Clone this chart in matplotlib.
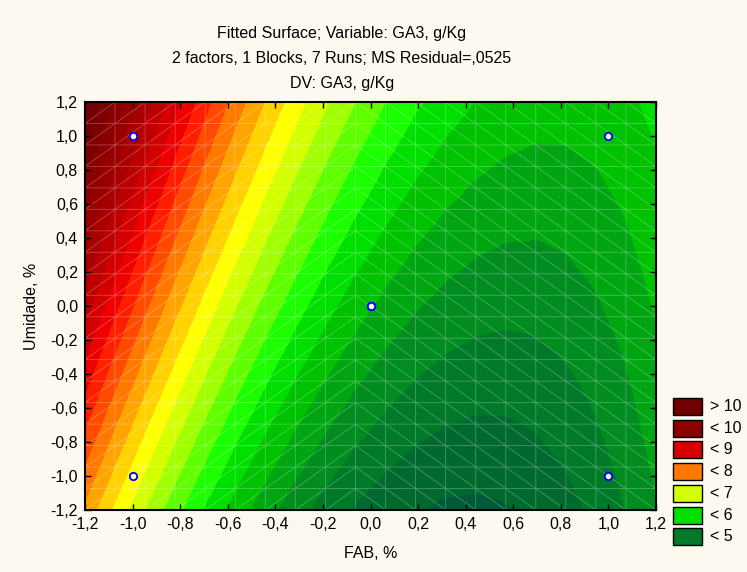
import numpy as np
import matplotlib
matplotlib.use("Agg")
import matplotlib.pyplot as plt
from matplotlib.tri import Triangulation
from matplotlib.patches import Rectangle

plt.rcParams['font.family'] = ['Liberation Sans', 'DejaVu Sans']

# experimental runs (coded levels) and measured GA3
fab = [-1, 1, -1, 1, 0, 0, 0]
umidade = [-1, -1, 1, 1, 0, 0, 0]
ga3 = [7.15, 4.95, 9.37, 5.59, 5.28, 5.51, 5.74]

ticks = [-1.2, -1.0, -0.8, -0.6, -0.4, -0.2, 0.0, 0.2, 0.4, 0.6, 0.8, 1.0, 1.2]

# contour bands, 0.25 g/Kg apart
levels = np.arange(4.0, 11.51, 0.25)
band_colors = ['#004F40', '#005A3A', '#006A2E', '#007A28', '#008C1E', '#00A612',
               '#00C200', '#00E000', '#1CFF00', '#60FF00', '#A0FF00', '#D4FF00',
               '#FFFF00', '#FFD200', '#FFA400', '#FF7800', '#FF4A00', '#FF1E00',
               '#EC0000', '#D20000', '#BC0000', '#A80000', '#980000', '#8A0000',
               '#7B0000', '#6E0000', '#6E0000', '#6E0000', '#6E0000', '#6E0000']

legend_labels = ['> 10', '< 10', '< 9', '< 8', '< 7', '< 6', '< 5']
legend_colors = ['#700000', '#8B0000', '#D50000', '#FF7800', '#D4FF00', '#00E000', '#007A28']

# quadratic model: b0 + b1*x + b2*y + b11*x^2 + b12*x*y
x = np.array(fab, float)
y = np.array(umidade, float)
X = np.column_stack([np.ones_like(x), x, y, x**2, x * y])
coef = np.linalg.lstsq(X, np.array(ga3), rcond=None)[0]

n = 20
g = np.linspace(-1.2, 1.2, n)
gx, gy = np.meshgrid(g, g)
gx = gx.ravel()
gy = gy.ravel()
gz = coef[0] + coef[1]*gx + coef[2]*gy + coef[3]*gx**2 + coef[4]*gx*gy

tris = []
for j in range(n - 1):
    for i in range(n - 1):
        ll = j*n + i
        lr = ll + 1
        ul = ll + n
        ur = ul + 1
        if i < 9:
            tris += [[ll, lr, ur], [ll, ur, ul]]
        else:
            tris += [[ll, lr, ul], [lr, ur, ul]]
tri = Triangulation(gx, gy, tris)

fs = 11.5
bg = '#FDF9F0'
fig = plt.figure(figsize=(7.47, 5.72), dpi=100, facecolor=bg)
ax = fig.add_axes([85/747, 1 - 510/572, 571/747, 408/572])

ax.tricontourf(tri, gz, levels=levels, colors=band_colors)
ax.triplot(tri, color='white', alpha=0.26, lw=0.65)
ax.scatter(fab, umidade, s=28, facecolor='white', edgecolor='#0000FF', lw=1.3, zorder=5)

ax.set_xlim(-1.2, 1.2)
ax.set_ylim(-1.2, 1.2)
tick_text = [f"{t:.1f}".replace('.', ',') for t in ticks]
ax.set_xticks(ticks)
ax.set_xticklabels(tick_text)
ax.set_yticks(ticks)
ax.set_yticklabels(tick_text)
ax.tick_params(direction='in', length=4, width=1, top=True, right=True,
               labelsize=fs, pad=5)
for s in ax.spines.values():
    s.set_linewidth(1.5)

ax.set_xlabel('FAB, %', fontsize=fs, labelpad=10)
ax.set_ylabel('Umidade, %', fontsize=fs, labelpad=8)

title = ['Fitted Surface; Variable: GA3, g/Kg',
         '2 factors, 1 Blocks, 7 Runs; MS Residual=,0525',
         'DV: GA3, g/Kg']
for k, line in enumerate(title):
    fig.text(342/747, 1 - (33.5 + 25*k)/572, line, ha='center', va='center', fontsize=fs)

# legend boxes on the right
for k, (lab, col) in enumerate(zip(legend_labels, legend_colors)):
    top = 398 + 21.7*k
    fig.patches.append(Rectangle((673/747, 1 - (top + 17)/572), 29/747, 17/572,
                                 transform=fig.transFigure, facecolor=col,
                                 edgecolor='black', lw=1))
    fig.text(710/747, 1 - (top + 8.5)/572, lab, ha='left', va='center', fontsize=fs)

fig.savefig('out.png', dpi=100, facecolor=bg)
